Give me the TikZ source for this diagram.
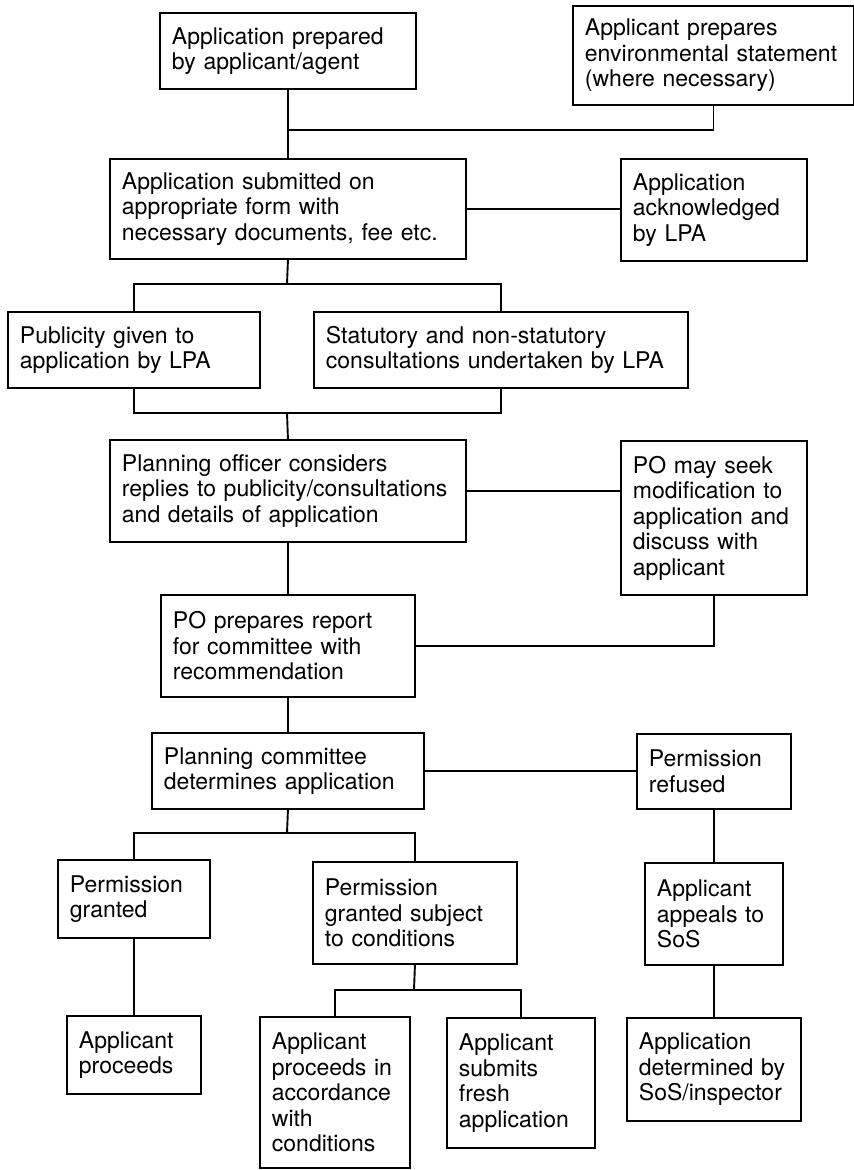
\documentclass[tikz,border=0pt]{standalone}
\usepackage{fontspec}
\setmainfont{TeX Gyre Heros}
\tikzset{stage/.style={draw,line width=1.9pt,anchor=north west,align=left,inner xsep=12pt,inner ysep=0pt,font=\fontsize{23pt}{25.5pt}\selectfont},
link/.style={line width=1.9pt}}

\begin{document}
\begin{tikzpicture}[x=1pt,y=-1pt]
\useasboundingbox (0,0) rectangle (854,1170);
\node[stage,text width=257pt,minimum height=99pt] (envst) at (572,5) {Applicant prepares\\environmental statement\\(where necessary)};
\node[stage,text width=232pt,minimum height=76pt] (prep) at (159,12) {Application prepared\\by applicant/agent};
\node[stage,text width=332pt,minimum height=100pt] (submit) at (109,158) {Application submitted on\\appropriate form with\\necessary documents, fee etc.};
\node[stage,text width=162pt,minimum height=102pt] (ack) at (620,158) {Application\\acknowledged\\by LPA};
\node[stage,text width=228pt,minimum height=76pt] (public) at (7,311) {Publicity given to\\application by LPA};
\node[stage,text width=350pt,minimum height=76pt] (consult) at (313,311) {Statutory and non-statutory\\consultations undertaken by LPA};
\node[stage,text width=332pt,minimum height=102pt] (officer) at (109,439) {Planning officer considers\\replies to publicity/consultations\\and details of application};
\node[stage,text width=162pt,minimum height=154pt] (modify) at (620,440) {PO may seek\\modification to\\application and\\discuss with\\applicant};
\node[stage,text width=230pt,minimum height=102pt] (report) at (160,594) {PO prepares report\\for committee with\\recommendation};
\node[stage,text width=248pt,minimum height=76pt] (committee) at (151,732) {Planning committee\\determines application};
\node[stage,text width=130pt,minimum height=75pt] (refused) at (636,733) {Permission\\refused};
\node[stage,text width=128pt,minimum height=78pt] (granted) at (57,859) {Permission\\granted};
\node[stage,text width=180pt,minimum height=102pt] (subject) at (312,861) {Permission\\granted subject\\to conditions};
\node[stage,text width=114pt,minimum height=102pt] (appeal) at (644,862) {Applicant\\appeals to\\SoS};
\node[stage,text width=110pt,minimum height=78pt] (proceeds) at (66,1015) {Applicant\\proceeds};
\node[stage,text width=126pt,minimum height=151pt] (accord) at (259,1016) {Applicant\\proceeds in\\accordance\\with\\conditions};
\node[stage,text width=124pt,minimum height=130pt] (fresh) at (446,1017) {Applicant\\submits\\fresh\\application};
\node[stage,text width=150pt,minimum height=103pt] (sos) at (626,1017) {Application\\determined by\\SoS/inspector};
% joints
\coordinate (j1) at (287,130);
\coordinate (s1) at (287,284);
\coordinate (m1) at (287,413);
\coordinate (s2) at (287,833);
\coordinate (s3) at (414,990);
% connectors
\draw[link] (prep.south) -- (submit.north);
\draw[link] (envst.south) |- (j1);
\draw[link] (submit.east) -- (submit.east -| ack.west);
\draw[link] (submit.south) -- (s1);
\draw[link] (public.north) |- (s1) -| (consult.north);
\draw[link] (public.south) |- (m1) -| (consult.south);
\draw[link] (m1) -- (officer.north);
\draw[link] (officer.east) -- (officer.east -| modify.west);
\draw[link] (officer.south) -- (report.north);
\draw[link] (modify.south) |- (report.east);
\draw[link] (report.south) -- (committee.north);
\draw[link] (committee.east) -- (committee.east -| refused.west);
\draw[link] (committee.south) -- (s2);
\draw[link] (granted.north) |- (s2) -| (subject.north);
\draw[link] (refused.south) -- (appeal.north);
\draw[link] (granted.south) -- (proceeds.north);
\draw[link] (subject.south) -- (s3);
\draw[link] (accord.north) |- (s3) -| (fresh.north);
\draw[link] (appeal.south) -- (sos.north);
\end{tikzpicture}
\end{document}
